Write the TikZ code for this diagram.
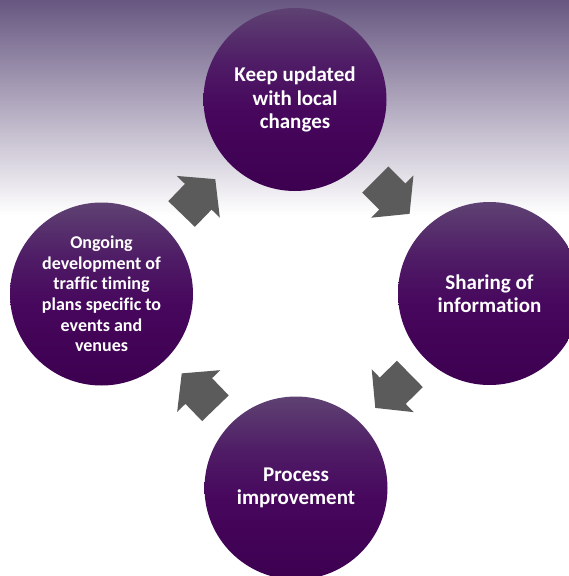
\documentclass[tikz,border=0pt]{standalone}
\usepackage{fontspec}
\setmainfont{Carlito}[Ligatures=CommonOff]
\usetikzlibrary{calc}
\definecolor{bgtop}{HTML}{675781}
\definecolor{arrowgray}{HTML}{5B5B5B}
\definecolor{ctop}{HTML}{5E4272}
\definecolor{cupper}{HTML}{4F1C66}
\definecolor{cmid}{HTML}{47075D}
\definecolor{cbot}{HTML}{3D0050}
\pgfdeclareverticalshading{circsh}{100bp}{color(0bp)=(cbot); color(25bp)=(cbot); color(47bp)=(cmid); color(60bp)=(cupper); color(75bp)=(ctop); color(100bp)=(ctop)}
\tikzset{
  circ/.style={circle, minimum size=183pt, inner sep=0pt, shading=circsh, shading angle=0,
    text=white, align=center, font=\bfseries\fontsize{21}{23.3}\selectfont},
  smalltext/.style={font=\bfseries\fontsize{18}{20.6}\selectfont},
  blockarrow/.style={fill=arrowgray, draw=none}
}
\begin{document}
\begin{tikzpicture}[x=1pt,y=-1pt]
\useasboundingbox (0,0) rectangle (569,576);
\clip (0,0) rectangle (569,576);
\fill[white] (0,0) rectangle (569,576);
\shade[top color=bgtop, bottom color=white] (0,0) rectangle (569,215);
% circles
\node[circ] (top) at (295,99.5) {Keep updated\\with local\\changes};
\node[circ] (right) at (489.5,293.5) {Sharing of\\information};
\node[circ] (bottom) at (296,488) {Process\\improvement};
\node[circ, smalltext] (left) at (101.5,294) {Ongoing\\development of\\traffic timing\\plans specific to\\events and\\venues};
% arrow anchors
\coordinate (a1) at ($(left.center)!0.5!(top.center)$);
\coordinate (a2) at ($(top.center)!0.5!(right.center)$);
\coordinate (a3) at ($(right.center)!0.5!(bottom.center)$);
\coordinate (a4) at ($(bottom.center)!0.5!(left.center)$);
\foreach \c/\r in {a1/46, a2/-45, a3/-135.5, a4/134}{
  \fill[blockarrow, shift={(\c)}, rotate=\r]
    (-24,-18.5) -- (0,-18.5) -- (0,-30) -- (24.5,0) -- (0,30) -- (0,18.5) -- (-24,18.5) -- cycle;
}
\end{tikzpicture}
\end{document}
